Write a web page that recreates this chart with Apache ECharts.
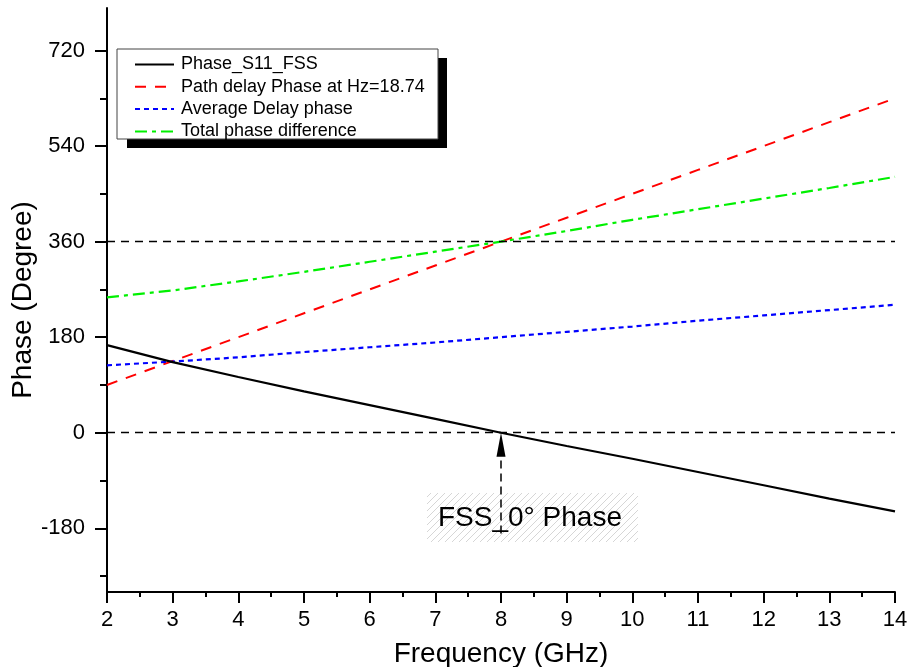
<!DOCTYPE html>
<html>
<head>
<meta charset="utf-8">
<script src="https://cdn.jsdelivr.net/npm/echarts@6/dist/echarts.min.js"></script>
<style>
  html, body { margin: 0; padding: 0; background: #fff; }
  #chart { width: 910px; height: 667px; }
</style>
</head>
<body>
<div id="chart"></div>
<script>
// Frequency sweep (GHz)
const freqs = [2, 3, 4, 5, 6, 7, 8, 9, 10, 11, 12, 13, 14];
// Phase curves (degrees)
const phaseS11 = [165, 133, 105, 78, 52, 26, 0, -25, -49, -74, -99, -124, -148];
const pathDelay = [90, 135, 180, 225, 270, 315, 360, 405, 450, 495, 540, 585, 630];
const avgDelay = [127, 134, 142, 152, 161, 170, 180, 190, 200, 211, 221, 231, 241];
const totalDiff = [255, 268, 285, 303, 322, 341, 360, 380, 401, 421, 441, 461, 482];

const seriesNames = ['Phase_S11_FSS', 'Path delay Phase at Hz=18.74', 'Average Delay phase', 'Total phase difference'];

// Axis ticks
const yMajorTicks = [-180, 0, 180, 360, 540, 720];
const yMinorTicks = [-270, -90, 90, 270, 450, 630];
const refLevels = [0, 360];

// Annotation: arrow marking the 0° crossing
const markFreq = 8;
const markPhase = 0;
const markTail = -190;
const markText = 'FSS_0° Phase';

const FONT = "'Liberation Sans', Arial, Helvetica, sans-serif";

function pairs(ys) { return freqs.map((f, i) => [f, ys[i]]); }

const chart = echarts.init(document.getElementById('chart'), null, { renderer: 'canvas' });

const axisColor = '#000';

const option = {
  animation: false,
  backgroundColor: '#fff',
  textStyle: { fontFamily: FONT },
  grid: { left: 107, right: 15, top: 8, bottom: 75, containLabel: false, outerBoundsMode: 'none' },
  legend: {
    orient: 'vertical',
    left: 134,
    top: 55.5,
    padding: 0,
    itemWidth: 39,
    itemHeight: 14,
    itemGap: 4.3,
    z: 10,
    selectedMode: false,
    itemStyle: { opacity: 0 },
    textStyle: { fontSize: 18, color: '#000', fontFamily: FONT, lineHeight: 18, padding: [0, 0, 0, 2] },
    data: seriesNames
  },
  xAxis: {
    type: 'value',
    min: 2,
    max: 14,
    interval: 1,
    name: 'Frequency (GHz)',
    nameLocation: 'middle',
    nameGap: 48,
    nameMoveOverlap: false,
    nameTextStyle: { fontSize: 28, color: '#000', fontFamily: FONT },
    axisLine: { show: true, onZero: false, lineStyle: { color: axisColor, width: 2 } },
    axisTick: { show: true, length: 11, lineStyle: { color: axisColor, width: 2 } },
    minorTick: { show: true, splitNumber: 2, length: 5, lineStyle: { color: axisColor, width: 2 } },
    axisLabel: { fontSize: 22, color: '#000', margin: 17, fontFamily: FONT },
    splitLine: { show: false },
    minorSplitLine: { show: false }
  },
  yAxis: [
    {
      type: 'value',
      min: -300,
      max: 800,
      position: 'left',
      name: 'Phase (Degree)',
      nameLocation: 'middle',
      nameGap: 70,
      nameMoveOverlap: false,
      nameTextStyle: { fontSize: 28, color: '#000', fontFamily: FONT },
      axisLine: { show: true, onZero: false, lineStyle: { color: axisColor, width: 2 } },
      axisTick: { show: true, length: 12, customValues: yMajorTicks, lineStyle: { color: axisColor, width: 2 } },
      axisLabel: { show: true, customValues: yMajorTicks, fontSize: 22, color: '#000', margin: 22, fontFamily: FONT },
      splitLine: { show: false }
    },
    {
      type: 'value',
      min: -300,
      max: 800,
      position: 'left',
      axisLine: { show: false },
      axisTick: { show: true, length: 7, customValues: yMinorTicks, lineStyle: { color: axisColor, width: 2 } },
      axisLabel: { show: false },
      splitLine: { show: false }
    }
  ],
  series: [
    {
      name: seriesNames[0],
      type: 'line',
      data: pairs(phaseS11),
      symbol: 'none',
      showSymbol: false,
      lineStyle: { color: '#000', width: 2.2, type: 'solid' },
      itemStyle: { color: '#000' },
      z: 5,
      markLine: {
        silent: true,
        symbol: 'none',
        label: { show: false },
        emphasis: { disabled: true },
        lineStyle: { color: '#000', width: 1.3, type: [8, 6] },
        data: refLevels.map(v => ({ yAxis: v }))
      }
    },
    {
      name: seriesNames[1],
      type: 'line',
      data: pairs(pathDelay),
      symbol: 'none',
      showSymbol: false,
      lineStyle: { color: '#ff0000', width: 2, type: [11, 9] },
      itemStyle: { color: '#ff0000' },
      z: 4
    },
    {
      name: seriesNames[2],
      type: 'line',
      data: pairs(avgDelay),
      symbol: 'none',
      showSymbol: false,
      lineStyle: { color: '#0000ff', width: 2.2, type: [5, 4] },
      itemStyle: { color: '#0000ff' },
      z: 4
    },
    {
      name: seriesNames[3],
      type: 'line',
      data: pairs(totalDiff),
      symbol: 'none',
      showSymbol: false,
      lineStyle: { color: '#00f000', width: 2.2, type: [12, 5, 4, 5] },
      itemStyle: { color: '#00f000' },
      z: 4
    }
  ]
};

chart.setOption(option);

// Hatched backdrop pattern for the annotation text
function hatchPattern() {
  const c = document.createElement('canvas');
  c.width = 7; c.height = 7;
  const ctx = c.getContext('2d');
  ctx.strokeStyle = '#d6d6d6';
  ctx.lineWidth = 1;
  ctx.beginPath();
  ctx.moveTo(0, 7); ctx.lineTo(7, 0);
  ctx.moveTo(-1, 1); ctx.lineTo(1, -1);
  ctx.moveTo(6, 8); ctx.lineTo(8, 6);
  ctx.stroke();
  return { image: c, repeat: 'repeat' };
}

const head = chart.convertToPixel({ gridIndex: 0 }, [markFreq, markPhase]);
const tail = chart.convertToPixel({ gridIndex: 0 }, [markFreq, markTail]);
const headLen = 24, headHalf = 4.5;

chart.setOption({
  graphic: [
    // legend frame with offset drop shadow
    { type: 'rect', z: 1, shape: { x: 127, y: 58, width: 320, height: 90 }, style: { fill: '#000' }, silent: true },
    { type: 'rect', z: 2, shape: { x: 117, y: 49, width: 321, height: 90 }, style: { fill: '#fff', stroke: '#444', lineWidth: 1 }, silent: true },
    // annotation
    { type: 'rect', z: 1, shape: { x: 427, y: 493, width: 211, height: 49 }, style: { fill: hatchPattern() }, silent: true },
    { type: 'line', z: 3, shape: { x1: tail[0], y1: tail[1], x2: head[0], y2: head[1] + headLen - 2 }, style: { stroke: '#000', lineWidth: 1.5, lineDash: [8, 5] }, silent: true },
    { type: 'polygon', z: 3, shape: { points: [[head[0], head[1]], [head[0] - headHalf, head[1] + headLen], [head[0] + headHalf, head[1] + headLen]] }, style: { fill: '#000' }, silent: true },
    { type: 'text', z: 3, style: { text: markText, x: 438, y: 518, font: "28px 'Liberation Sans', Arial, sans-serif", fill: '#000', verticalAlign: 'middle', align: 'left' }, silent: true }
  ]
});
</script>
</body>
</html>
